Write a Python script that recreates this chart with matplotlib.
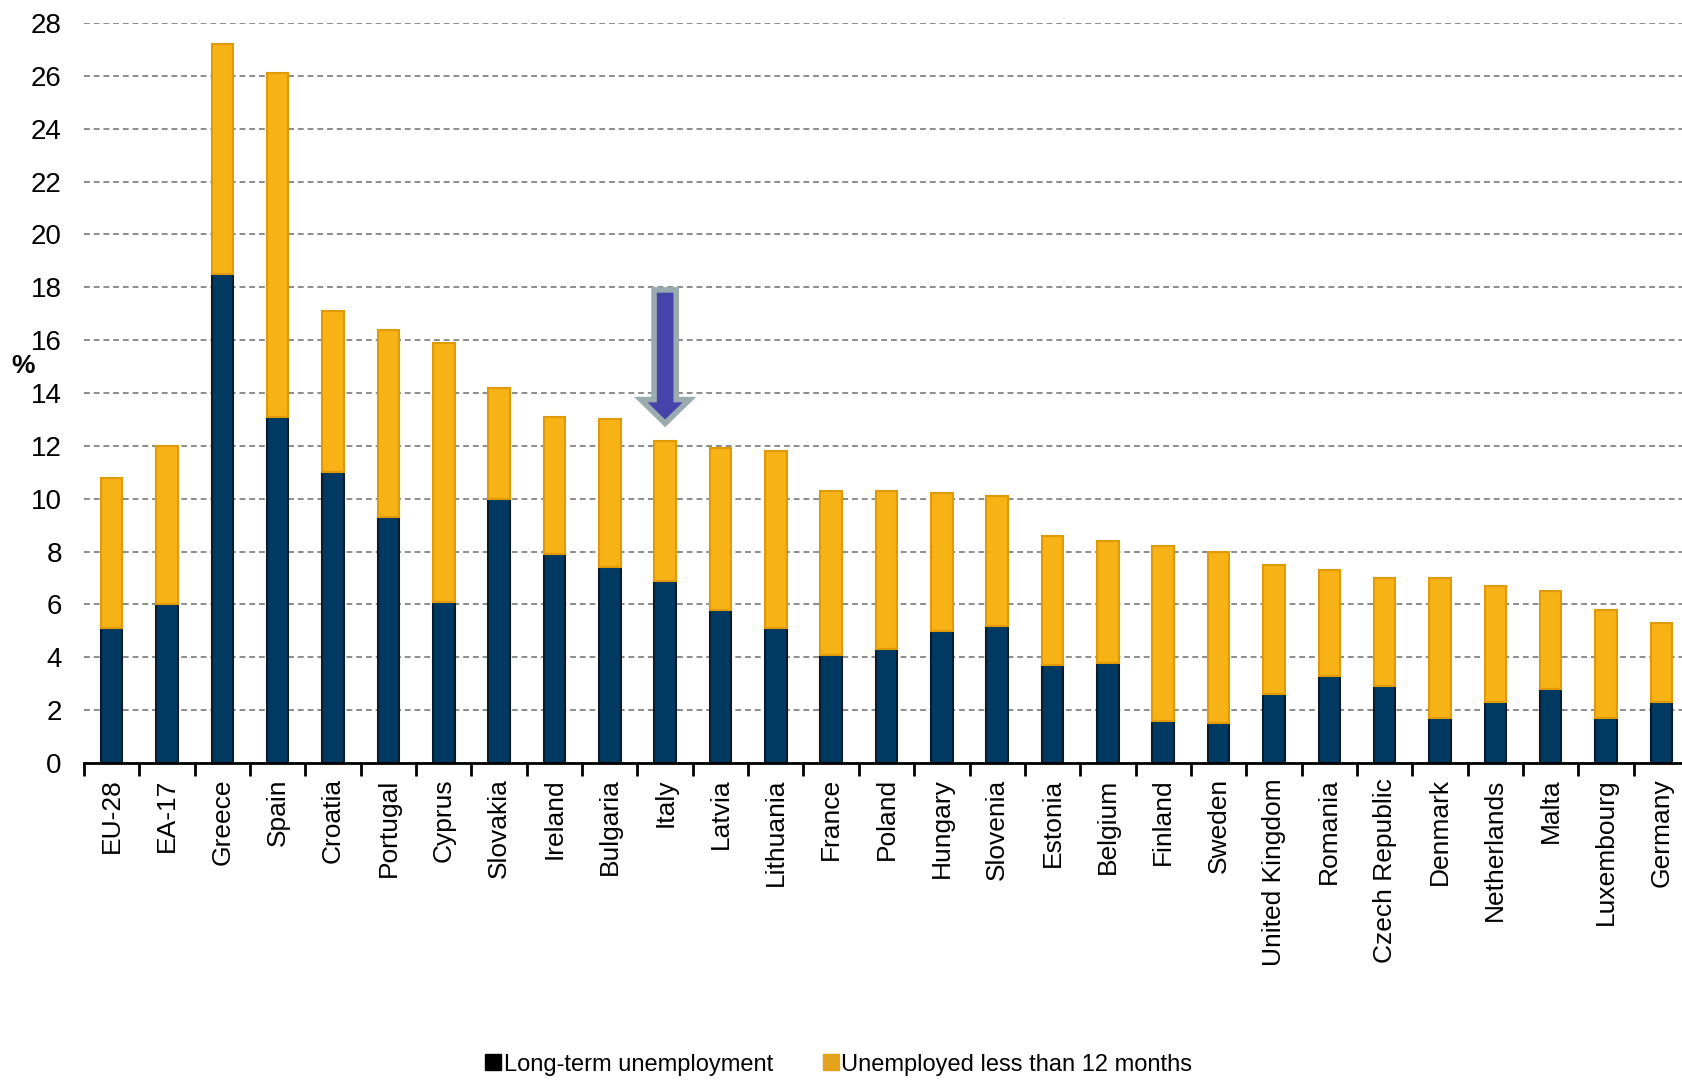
import numpy as np
import matplotlib
matplotlib.use("Agg")
import matplotlib.pyplot as plt
from matplotlib.lines import Line2D

plt.rcParams['font.family'] = ['Liberation Sans', 'DejaVu Sans']

# data (% of labour force)
countries = ['EU-28', 'EA-17', 'Greece', 'Spain', 'Croatia', 'Portugal', 'Cyprus',
             'Slovakia', 'Ireland', 'Bulgaria', 'Italy', 'Latvia', 'Lithuania',
             'France', 'Poland', 'Hungary', 'Slovenia', 'Estonia', 'Belgium',
             'Finland', 'Sweden', 'United Kingdom', 'Romania', 'Czech Republic',
             'Denmark', 'Netherlands', 'Malta', 'Luxembourg', 'Germany']
total = [10.8, 12.0, 27.2, 26.1, 17.1, 16.4, 15.9, 14.2, 13.1, 13.0, 12.2, 11.9,
         11.8, 10.3, 10.3, 10.2, 10.1, 8.6, 8.4, 8.2, 8.0, 7.5, 7.3, 7.0, 7.0,
         6.7, 6.5, 5.8, 5.3]
long_term = [5.1, 6.0, 18.5, 13.1, 11.0, 9.3, 6.1, 10.0, 7.9, 7.4, 6.9, 5.8,
             5.1, 4.1, 4.3, 5.0, 5.2, 3.7, 3.8, 1.6, 1.5, 2.6, 3.3, 2.9, 1.7,
             2.3, 2.8, 1.7, 2.3]
short_term = [t - l for t, l in zip(total, long_term)]
highlight = 'Italy'

navy = '#003a62'
orange = '#f7b216'

fig = plt.figure(figsize=(16.83, 10.82), dpi=100)
ax = fig.add_axes([0.0499, 0.2948, 0.9537, 0.684])

x = np.arange(len(countries))
ax.bar(x, long_term, width=0.39, color=navy, edgecolor='#081c2c', linewidth=1.5, zorder=3)
ax.bar(x, short_term, bottom=long_term, width=0.39, color=orange,
       edgecolor='#e09a08', linewidth=1.5, zorder=3)

ax.set_xlim(-0.5, len(countries) - 0.5)
ax.set_ylim(0, 28)
ax.set_yticks(np.arange(0, 29, 2))
ax.set_xticks(x)
ax.set_xticklabels(countries, rotation=90, fontsize=19)
ax.set_xticks(np.arange(-0.5, len(countries) - 0.4, 1), minor=True)
ax.tick_params(axis='x', which='major', length=0, pad=11)
ax.tick_params(axis='x', which='minor', length=9, width=2, direction='out', color='black')
ax.tick_params(axis='y', length=0, pad=16, labelsize=20)

for s in ['top', 'right', 'left']:
    ax.spines[s].set_visible(False)
ax.spines['bottom'].set_linewidth(2)
ax.spines['bottom'].set_zorder(4)

ax.yaxis.grid(True, linestyle=(0, (3, 2)), color='#8c8c8c', linewidth=1.4, zorder=0)
ax.set_axisbelow(True)

# arrow pointing at Italy
i = countries.index(highlight)
ax.arrow(i, 17.9, 0, 12.85 - 17.9, width=0.4, head_width=0.88, head_length=0.9,
         length_includes_head=True, fc='#4444aa', ec='#9aabb0', lw=4, zorder=5)

fig.text(0.014, 0.662, '%', fontsize=19, fontweight='bold', ha='center', va='center')

handles = [Line2D([], [], marker='s', linestyle='none', markersize=11, color='black'),
           Line2D([], [], marker='s', linestyle='none', markersize=11, color='#e4a21a')]
fig.legend(handles, ['Long-term unemployment', 'Unemployed less than 12 months'],
           ncol=2, loc='center', bbox_to_anchor=(0.499, 0.016), frameon=False,
           fontsize=17, handlelength=0.5, handletextpad=0.2, columnspacing=2.2)

plt.savefig('out.png', dpi=100)
